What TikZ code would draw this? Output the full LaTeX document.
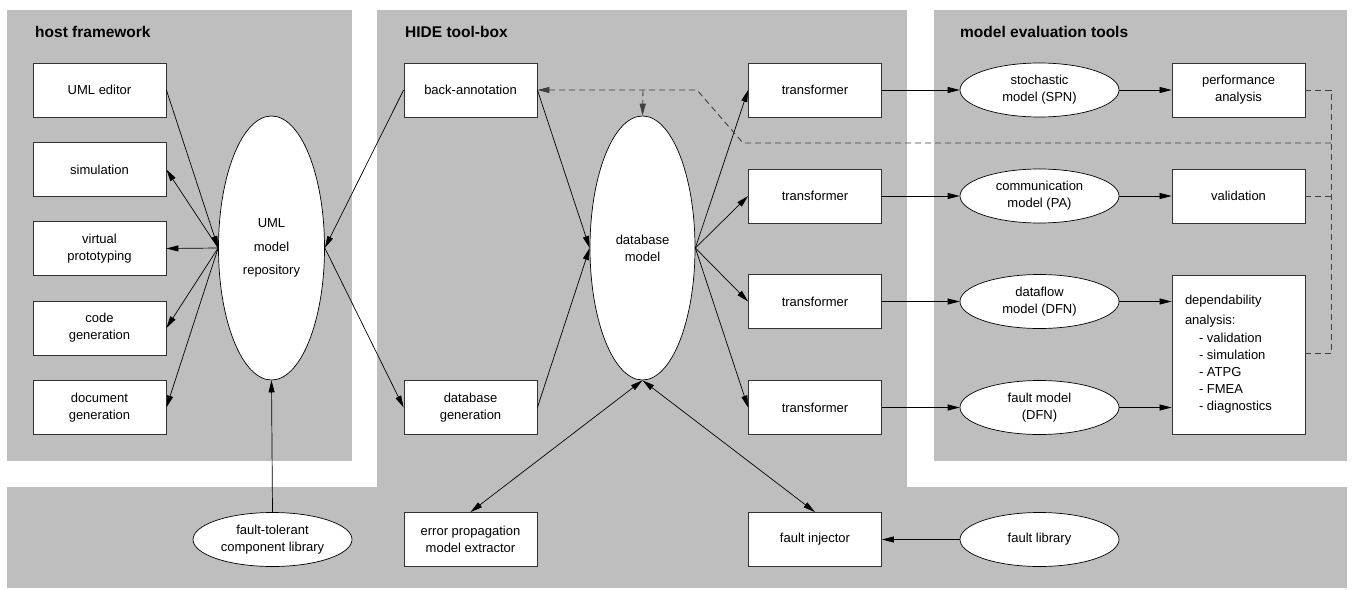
\documentclass[tikz,border=0pt]{standalone}
\usepackage{fontspec}
\setmainfont{Liberation Sans}
\usepackage{tikz}
\usetikzlibrary{shapes, arrows.meta, positioning}
\definecolor{panelgray}{RGB}{190,190,190}
\definecolor{dashgray}{RGB}{64,64,64}

\begin{document}
\begin{tikzpicture}[x=1pt,y=-1pt,
    >={Triangle[length=12pt,width=6pt]},
    panel/.style={fill=panelgray,draw=none},
    paneltitle/.style={anchor=base west,inner sep=0,font=\fontsize{15.5}{18}\selectfont\bfseries},
    box/.style={rectangle,draw=black!80,fill=white,line width=0.8pt,minimum width=133pt,minimum height=54pt,inner sep=2pt,align=center,font=\fontsize{13}{17.2}\selectfont},
    oval/.style={ellipse,draw=black,fill=white,line width=0.7pt,minimum width=159pt,minimum height=54pt,inner sep=0,align=center,font=\fontsize{13}{17.2}\selectfont},
    store/.style={ellipse,draw=black,fill=white,line width=0.7pt,minimum width=106pt,minimum height=264pt,inner sep=0,align=center,font=\fontsize{13}{17.2}\selectfont},
    feedback/.style={draw=dashgray,line width=0.9pt,dash pattern=on 6pt off 4pt}]
        \useasboundingbox (0,0) rectangle (1354,589);
        % panels
        \fill[panel] (7,10) rectangle (352,461);
        \fill[panel] (377,10) rectangle (907,588);
        \fill[panel] (934,10) rectangle (1347,461);
        \fill[panel] (7,487) rectangle (1347,588);
        \node[paneltitle] (thost) at (35,37) {host framework};
        \node[paneltitle] (thide) at (405,37) {HIDE tool-box};
        \node[paneltitle] (teval) at (960,37) {model evaluation tools};

        % host framework
        \begin{scope}[every node/.style={box}]
          \node (editor) at (99.5,90) {UML editor};
          \node (sim) at (99.5,169.5) {simulation};
          \node (proto) at (99.5,248.5) {virtual\\prototyping};
          \node (codegen) at (99.5,328) {code\\generation};
          \node (docgen) at (99.5,407.5) {document\\generation};
        \end{scope}
        \node[store,font=\fontsize{13}{23.5}\selectfont] (umlrepo) at (271.5,248) {UML\\model\\repository};
        \node[oval] (ftlib) at (272.5,539.5) {fault-tolerant\\component library};

        % HIDE tool-box
        \begin{scope}[every node/.style={box}]
          \node (backann) at (470.5,90) {back-annotation};
          \node (dbgen) at (470.5,407.5) {database\\generation};
          \node (epme) at (470.5,539.5) {error propagation\\model extractor};
          \node (trA) at (815,90) {transformer};
          \node (trB) at (815,196) {transformer};
          \node (trC) at (815,301.5) {transformer};
          \node (trD) at (815,407.5) {transformer};
          \node (finj) at (815,539.5) {fault injector};
        \end{scope}
        \node[store,minimum width=105pt] (dbmodel) at (642.5,248) {database\\model};
        \node[oval] (flib) at (1039.5,539.5) {fault library};

        % model evaluation tools
        \begin{scope}[every node/.style={oval}]
          \node (spn) at (1039.5,90) {stochastic\\model (SPN)};
          \node (pa) at (1039.5,196) {communication\\model (PA)};
          \node (dfn) at (1039.5,301.5) {dataflow\\model (DFN)};
          \node (fm) at (1039.5,407.5) {fault model\\(DFN)};
        \end{scope}
        \begin{scope}[every node/.style={box}]
          \node (perf) at (1238.5,90) {performance\\analysis};
          \node (valid) at (1238.5,196) {validation};
          \node[minimum height=159pt,align=left,inner sep=13pt] (depend) at (1238.5,354.5)
            {\parbox{107pt}{dependability\\[2.8pt]analysis:\\
              \hspace*{14pt}- validation\\\hspace*{14pt}- simulation\\\hspace*{14pt}- ATPG\\
              \hspace*{14pt}- FMEA\\\hspace*{14pt}- diagnostics}};
        \end{scope}

        % connectors
        \begin{scope}[every edge/.style={draw=black,line width=0.7pt}]
          \path (editor.east) edge[->] (umlrepo.west);
          \path (umlrepo.west) edge[->] (sim.east);
          \path (umlrepo.west) edge[->] (proto.east);
          \path (umlrepo.west) edge[->] (codegen.east);
          \path (umlrepo.west) edge[->] (docgen.east);
          \path (ftlib.north) edge[->] (umlrepo.south);
          \path (backann.west) edge[->] (umlrepo.east);
          \path (umlrepo.east) edge[->] (dbgen.west);
          \path (backann.east) edge[->] (dbmodel.west);
          \path (dbgen.east) edge[->] (dbmodel.west);
          \path (dbmodel.east) edge[->] (trA.west);
          \path (dbmodel.east) edge[->] (trB.west);
          \path (dbmodel.east) edge[->] (trC.west);
          \path (dbmodel.east) edge[->] (trD.west);
          \path (dbmodel.south) edge[<->] (epme.north);
          \path (dbmodel.south) edge[<->] (finj.north);
          \path (flib.west) edge[->] (finj.east);
          \path (trA.east) edge[->] (spn.west);
          \path (trB.east) edge[->] (pa.west);
          \path (trC.east) edge[->] (dfn.west);
          \path (trD.east) edge[->] (fm.west);
          \path (spn.east) edge[->] (perf.west);
          \path (pa.east) edge[->] (valid.west);
          \path (dfn.east) edge[->] (depend.west |- dfn.east);
          \path (fm.east) edge[->] (depend.west |- fm.east);
        \end{scope}

        % feedback to back-annotation
        \coordinate (fbtop) at (1331,90);
        \coordinate (fbbot) at (1331,353);
        \coordinate (fbturn) at (1331,143);
        \coordinate (fbkink) at (743,143);
        \coordinate (fbcorner) at (697,90);
        \coordinate (fbsplit) at (643,90);
        \draw[feedback] (perf.east) -- (fbtop) -- (fbbot);
        \draw[feedback] (valid.east) -- (valid.east -| fbtop);
        \draw[feedback] (depend.east |- fbbot) -- (fbbot);
        \draw[feedback,->] (fbturn) -- (fbkink) -- (fbcorner) -- (backann.east);
        \draw[feedback,->] (fbsplit) -- (dbmodel.north);
      \end{tikzpicture}
\end{document}
